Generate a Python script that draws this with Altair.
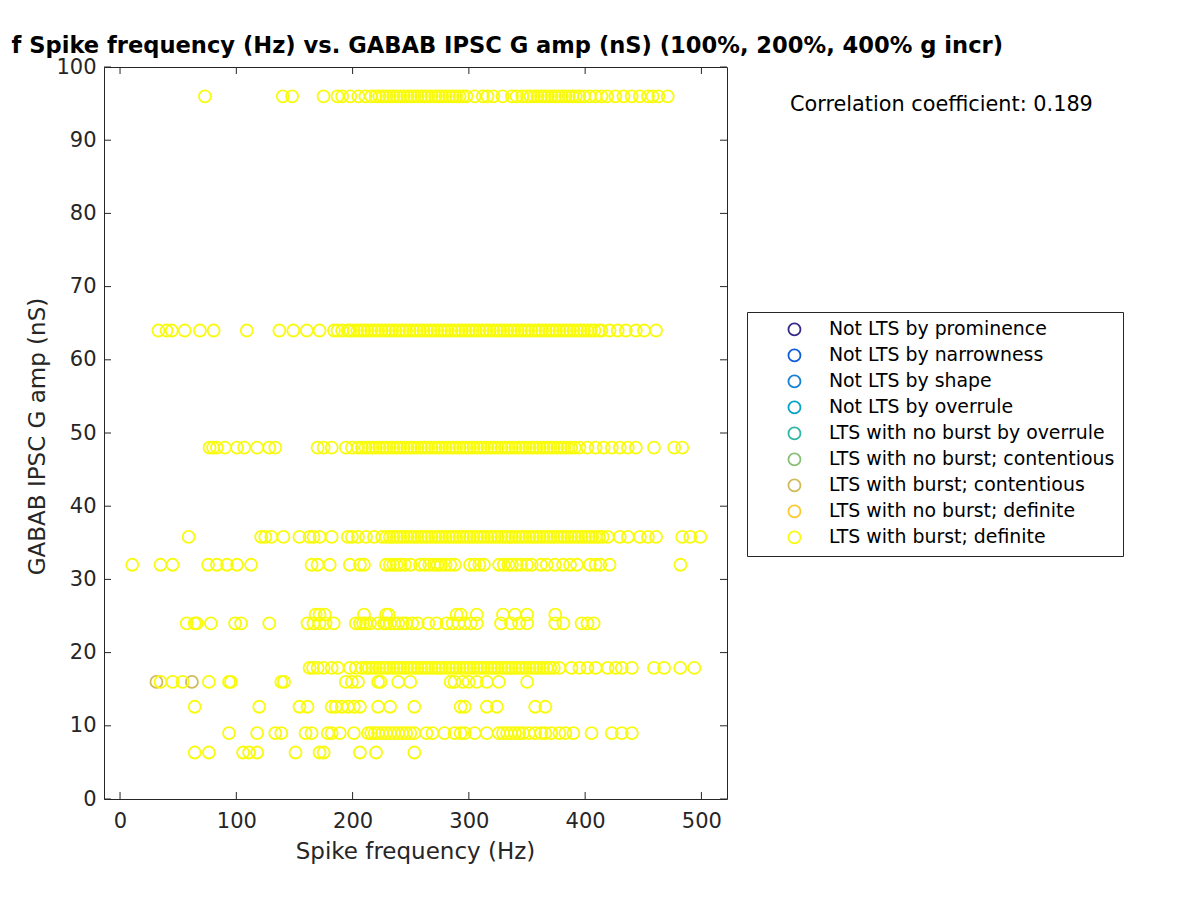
import altair as alt
import pandas as pd

categories = ["Not LTS by prominence", "Not LTS by narrowness", "Not LTS by shape",
              "Not LTS by overrule", "LTS with no burst by overrule",
              "LTS with no burst; contentious", "LTS with burst; contentious",
              "LTS with no burst; definite", "LTS with burst; definite"]
colors = ["#352A87", "#0F5CDD", "#1481D6", "#06A4CA", "#2EB7A4",
          "#87BF77", "#D1BB59", "#FEC832", "#F9FB0E"]

x_ticks = [0, 100, 200, 300, 400, 500]
y_ticks = [0, 10, 20, 30, 40, 50, 60, 70, 80, 90, 100]

# spike frequency values (Hz) at each GABAB IPSC G amp level (nS) -- "LTS with burst; definite"
y96 = [73, 140, 148, 175, 187, 191, 198, 205, 211, 216, 220, 223, 226, 229, 232, 235, 238, 241, 244, 247,
       250, 253, 256, 259, 262, 265, 268, 271, 274, 277, 280, 283, 286, 289, 292, 295, 298, 305, 312, 316,
       321, 329, 337, 341, 346, 350, 353, 356, 359, 362, 365, 368, 371, 374, 377, 380, 383, 386, 389, 392,
       395, 399, 404, 409, 414, 419, 426, 433, 440, 447, 454, 458, 463, 471]
y64 = [33, 40, 44.5, 55.6, 68.7, 80.5, 109, 137, 149, 160.6, 171.6, 184, 187, 191, 196, 198, 201, 204, 207,
       210, 213, 216, 219, 222, 225, 228, 231, 234, 237, 240, 243, 246, 249, 252, 255, 258, 261, 264, 267,
       270, 273, 276, 279, 282, 285, 288, 291, 294, 297, 300, 303, 306, 309, 312, 315, 318, 321, 324, 327,
       330, 333, 336, 339, 342, 345, 348, 351, 354, 357, 360, 363, 366, 369, 372, 375, 378, 381, 384, 387,
       390, 393, 396, 399, 402, 405, 408, 412, 414, 421, 428, 435, 443.6, 450.6, 461]
y48 = [77, 80, 83.3, 90.2, 100.6, 106.8, 117.9, 128.3, 133.5, 169.9, 175.1, 182, 194.2, 199.4, 204.6, 208,
       211, 214, 217, 220, 223, 226, 229, 232, 235, 238, 241, 244, 247, 250, 253, 256, 259, 262, 265, 268,
       271, 274, 277, 280, 283, 286, 289, 292, 295, 298, 301, 304, 307, 310, 313, 316, 319, 322, 325, 328,
       331, 334, 337, 340, 343, 346, 349, 352, 355, 358, 361, 364, 367, 370, 373, 376, 379, 382, 385, 388,
       391, 395.1, 402, 409, 415.9, 422.9, 429.8, 436.7, 443.6, 459.2, 476.6, 483.5]
y35_8 = [59, 121.4, 124.9, 130.1, 140.5, 154.3, 163, 166.4, 171.6, 182, 195.9, 199.4, 204.6, 211.5, 218.4,
         225.4, 229, 232, 235, 238, 241, 244, 247, 250, 253, 256, 259, 262, 265, 268, 271, 274, 277, 280,
         283, 286, 289, 292, 295, 298, 301, 304, 307, 310, 313, 316, 319, 322, 325, 328, 331, 334, 337, 340,
         343, 346, 349, 352, 355, 358, 361, 364, 367, 370, 373, 376, 379, 382, 385, 388, 391, 394, 397, 400,
         403, 406, 409, 412, 415, 419.4, 429.8, 436.7, 447.1, 454, 461, 483.5, 490.4, 499.1]
y32 = [10.5, 34.8, 45.2, 75.7, 83.3, 92, 100.6, 112.7, 164.7, 169.9, 180.3, 197.6, 206.3, 209.8, 228.8, 232,
       235, 238, 241, 245, 250, 258, 262, 266, 270, 273, 276, 280, 284, 288, 301, 305, 309, 313, 326, 330,
       334, 337, 341, 345, 350, 354, 362, 367, 374, 381, 387, 393, 404, 409, 413, 421, 482]
y25_2 = [168.2, 171.6, 176.1, 209.8, 228.8, 231, 289.5, 293, 306.8, 329.3, 339.7, 350.1, 374.3]
y24 = [57.3, 64.2, 66, 78.1, 98.9, 104.1, 128.3, 161.2, 166.4, 171.6, 176.8, 183.8, 202.8, 206.3, 209, 211.5,
       215, 221.9, 227.1, 229, 232.3, 236, 239.2, 243, 246.1, 251.3, 256, 265.2, 272.1, 280.8, 286, 291.2,
       296.4, 301.6, 306.8, 327.6, 336.2, 343.2, 350.1, 374.3, 381.3, 396.9, 402, 407.3]
y17_9 = [163, 166, 169.9, 175.1, 182, 187.2, 197.6, 202.8, 208, 211.5, 214, 217, 220, 223, 226, 229, 232,
         235, 238, 241, 244, 247, 250, 253, 256, 259, 262, 265, 268, 271, 274, 277, 280, 283, 286, 289, 292,
         295, 298, 301, 304, 307, 310, 313, 316, 319, 322, 325, 328, 331, 334, 337, 340, 343, 346, 349, 352,
         355, 358, 361, 364, 367, 370, 373, 377.8, 388.2, 395.1, 402, 409, 419.4, 426.3, 431.5, 440.2, 459.2,
         467.9, 481.8, 493.9]
y16 = [34.8, 45.2, 53.8, 76.4, 93.7, 95.4, 138.7, 141, 194.2, 199.4, 204.6, 221.9, 224, 239.2, 249.6, 284.3,
       287.7, 294.7, 299.8, 306.8, 315.4, 325.8, 350.1]
y12_6 = [64.2, 119.7, 154.3, 161.2, 182, 185.5, 190.7, 195.9, 201.1, 206.3, 221.9, 232.3, 253.1, 292.9,
         296.4, 315.4, 324.1, 357, 365.7]
y9 = [93.7, 117.9, 133.5, 138.7, 159.5, 164.7, 178.6, 182, 189, 201.1, 213.2, 216, 219, 221.9, 225.4, 228.8,
      232.3, 235.7, 239.2, 242.7, 246.1, 249.6, 253.1, 263.5, 268.7, 279, 287.7, 292.9, 296.4, 305, 315.4,
      325.8, 329.3, 332.8, 336.2, 339.7, 343.2, 346.6, 351.8, 357, 362.2, 365.7, 370.9, 377.8, 383, 389.9,
      405.5, 422.9, 431.5, 440.2]
y6_35 = [64.2, 76.4, 105.8, 111, 117.9, 150.9, 171.6, 175.1, 206.3, 220.2, 253.1]

# "LTS with burst; contentious" points
contentious_freq = [31.3, 61.8]
contentious_gamp = [16, 16]

levels = [(96, y96), (64, y64), (48, y48), (35.8, y35_8), (32, y32), (25.2, y25_2), (24, y24),
          (17.9, y17_9), (16, y16), (12.6, y12_6), (9, y9), (6.35, y6_35)]

rows = []
for f, g in zip(contentious_freq, contentious_gamp):
    rows.append({"freq": f, "gamp": g, "cat": categories[6], "z": 6})
for g, fl in levels:
    for f in fl:
        rows.append({"freq": f, "gamp": g, "cat": categories[8], "z": 8})
df = pd.DataFrame(rows)

W, H = 623, 732
FONT = "DejaVu Sans"
AX = "#262626"
xscale = alt.Scale(domain=[-13.8, 522], nice=False, zero=False)
yscale = alt.Scale(domain=[0, 100], nice=False, zero=False)

x_axis = alt.Axis(values=x_ticks, title="Spike frequency (Hz)", grid=False, domain=False,
                  ticks=False, tickSize=0, labelFont=FONT, labelFontSize=21, labelColor=AX,
                  labelPadding=28, labelBaseline="alphabetic",
                  titleFont=FONT, titleFontSize=23, titleFontWeight="normal", titleColor=AX,
                  titleBaseline="alphabetic", titleX=311, titleY=59, titleAlign="center")
y_axis = alt.Axis(values=y_ticks, title="GABAB IPSC G amp (nS)", grid=False, domain=False,
                  ticks=False, tickSize=0, labelFont=FONT, labelFontSize=21, labelColor=AX,
                  labelPadding=8,
                  titleFont=FONT, titleFontSize=23, titleFontWeight="normal", titleColor=AX,
                  titleAngle=270, titleBaseline="alphabetic", titleAlign="center",
                  titleX=-60, titleY=369)

points = alt.Chart(df).mark_point(filled=False, shape="circle", size=144, strokeWidth=1.8, opacity=1).encode(
    x=alt.X("freq:Q", scale=xscale, axis=x_axis),
    y=alt.Y("gamp:Q", scale=yscale, axis=y_axis),
    color=alt.Color("cat:N", scale=alt.Scale(domain=categories, range=colors),
                    legend=alt.Legend(orient="none", legendX=643, legendY=245, title=None,
                                      symbolType="circle", symbolSize=144, symbolStrokeWidth=1.8,
                                      labelFont=FONT, labelFontSize=18.9, labelColor="black",
                                      labelLimit=0, padding=8, rowPadding=5, symbolOffset=30,
                                      labelOffset=25, strokeColor=AX, fillColor="white")),
    order=alt.Order("z:Q"),
)

xt_df = pd.DataFrame({"freq": x_ticks})
yt_df = pd.DataFrame({"gamp": y_ticks})
tick_style = dict(color=AX, strokeWidth=1)
xt_bottom = alt.Chart(xt_df).mark_rule(**tick_style).encode(
    x=alt.X("freq:Q", scale=xscale, axis=x_axis), y=alt.value(H), y2=alt.value(H - 7))
xt_top = alt.Chart(xt_df).mark_rule(**tick_style).encode(
    x=alt.X("freq:Q", scale=xscale, axis=x_axis), y=alt.value(0), y2=alt.value(7))
yt_left = alt.Chart(yt_df).mark_rule(**tick_style).encode(
    y=alt.Y("gamp:Q", scale=yscale, axis=y_axis), x=alt.value(0), x2=alt.value(7))
yt_right = alt.Chart(yt_df).mark_rule(**tick_style).encode(
    y=alt.Y("gamp:Q", scale=yscale, axis=y_axis), x=alt.value(W), x2=alt.value(W - 7))

title_df = pd.DataFrame({"t": ["f Spike frequency (Hz) vs. GABAB IPSC G amp (nS) (100%, 200%, 400% g incr)"]})
title = alt.Chart(title_df).mark_text(font=FONT, fontSize=22.6, fontWeight="bold", align="right",
                                      baseline="alphabetic", color="black").encode(
    x=alt.value(899), y=alt.value(-14), text="t:N")

corr_df = pd.DataFrame({"t": ["Correlation coefficient: 0.189"]})
corr = alt.Chart(corr_df).mark_text(font=FONT, fontSize=20.8, align="left", baseline="alphabetic",
                                    color="black").encode(
    x=alt.value(686), y=alt.value(44), text="t:N")

chart = alt.layer(points, xt_bottom, xt_top, yt_left, yt_right, title, corr).properties(
    width=W, height=H,
    autosize=alt.AutoSizeParams(type="none"),
    padding={"left": 96, "top": 59, "right": 460, "bottom": 85},
    background="white",
).configure_view(stroke=AX, strokeWidth=1)

chart.save("out.html", embed_options={"renderer": "svg", "actions": False})
